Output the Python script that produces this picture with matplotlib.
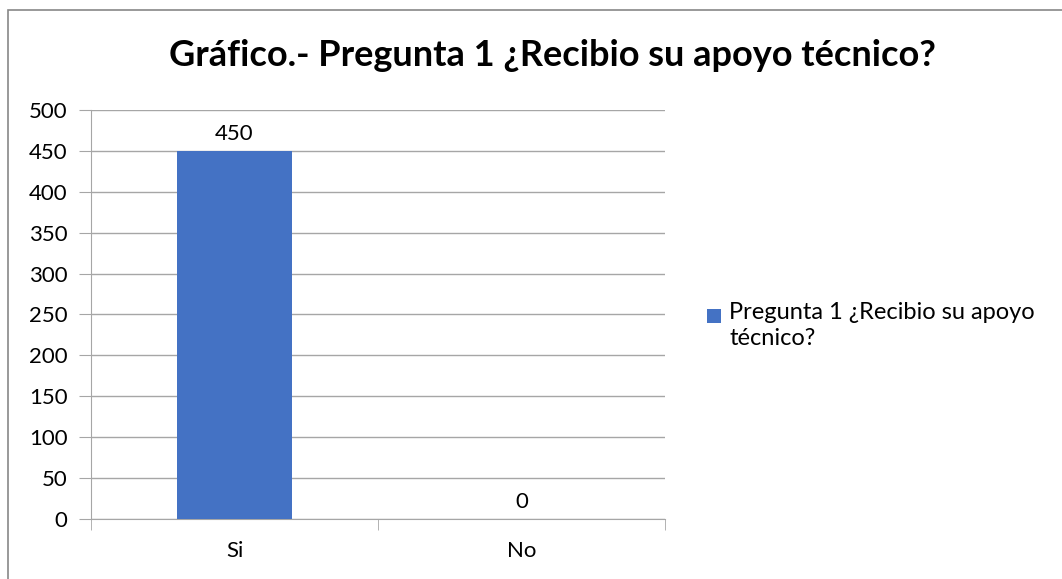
import matplotlib
matplotlib.use("Agg")
import matplotlib.pyplot as plt
from matplotlib.patches import Rectangle

# data
categories = ["Si", "No"]
values = [450, 0]
series_name = "Pregunta 1 ¿Recibio su apoyo\ntécnico?"
title = "Gráfico.- Pregunta 1 ¿Recibio su apoyo técnico?"
yticks = [0, 50, 100, 150, 200, 250, 300, 350, 400, 450, 500]

plt.rcParams['font.family'] = ['Lato', 'DejaVu Sans']

W, H = 1062, 579
fig = plt.figure(figsize=(W / 100, H / 100), dpi=100)

# chart area border (only left/top visible in the picture)
fig.patches.append(Rectangle((8 / W, -0.1), 1.2, 1.1 - 10 / H, transform=fig.transFigure,
                             fill=False, edgecolor="#888888", linewidth=1.2))

ax = fig.add_axes([91 / W, (H - 519) / H, (665 - 91) / W, (519 - 110) / H])
x = list(range(len(categories)))
ax.bar(x, values, width=0.4, color="#4472C4", zorder=3)
for xi, v in zip(x, values):
    ax.text(xi, v + 9, str(v), ha="center", va="bottom", fontsize=16, color="#000000")

ax.set_xlim(-0.5, 1.5)
ax.set_ylim(0, 500)
ax.set_yticks(yticks)
ax.set_xticks(x)
ax.set_xticklabels(categories)
ax.set_xticks([-0.5, 0.5, 1.5], minor=True)
ax.tick_params(axis="x", which="major", length=0, pad=16, labelsize=16)
ax.tick_params(axis="x", which="minor", length=8, color="#A6A6A6", direction="out")
ax.tick_params(axis="y", length=9, color="#A6A6A6", labelsize=16, pad=8)
ax.grid(axis="y", color="#A6A6A6", linewidth=1, zorder=0)
for s in ["top", "right"]:
    ax.spines[s].set_visible(False)
for s in ["left", "bottom"]:
    ax.spines[s].set_color("#A6A6A6")

fig.text(552 / W, 1 - 55 / H, title, ha="center", va="center", fontsize=26, fontweight="bold")

# legend
fig.patches.append(Rectangle((707 / W, 1 - 323 / H), 14 / W, 14 / H, transform=fig.transFigure,
                             facecolor="#4472C4", edgecolor="none"))
fig.text(729 / W, 1 - 302 / H, series_name, ha="left", va="top", fontsize=17, linespacing=1.3)

fig.savefig("out.png", dpi=100)
